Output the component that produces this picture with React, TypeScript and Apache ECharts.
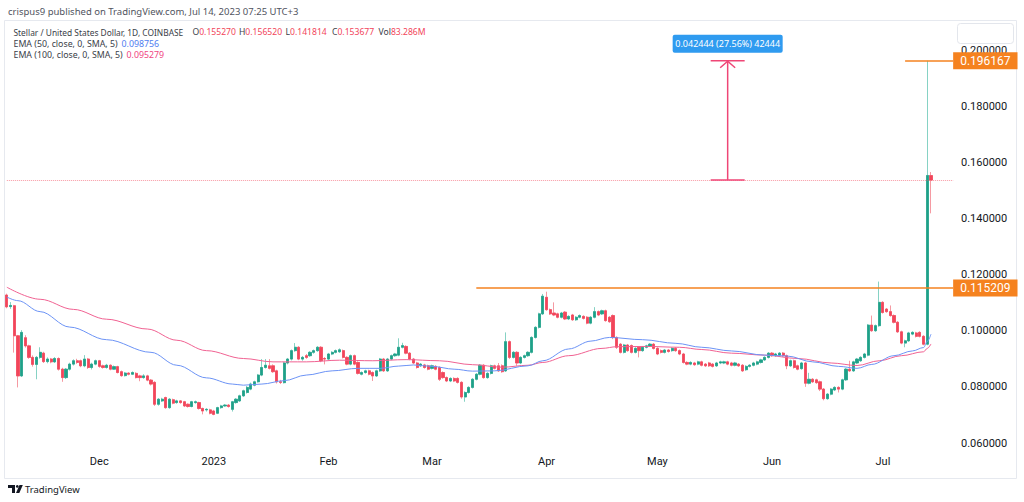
import React, { useEffect, useRef } from "react";
import * as echarts from "echarts";

// ---------- DATA ----------
const START_UTC = Date.UTC(2022, 10, 6); // first candle: 2022-11-06, daily candles
const PAD_DAYS = 6; // empty space right of the last candle

// [open, close, low, high]
const ohlc: number[][] = [
  [0.1127, 0.1085, 0.1080, 0.1132], [0.1086, 0.1090, 0.1078, 0.1102], [0.1089, 0.0982, 0.0922, 0.1092], [0.0982, 0.0839, 0.0798, 0.0985],
  [0.0839, 0.0994, 0.0835, 0.1002], [0.0975, 0.0946, 0.0940, 0.0984], [0.0946, 0.0905, 0.0900, 0.0950], [0.0905, 0.0880, 0.0872, 0.0912],
  [0.0880, 0.0905, 0.0827, 0.0910], [0.0905, 0.0923, 0.0900, 0.0941], [0.0920, 0.0890, 0.0885, 0.0925], [0.0890, 0.0899, 0.0884, 0.0905],
  [0.0899, 0.0889, 0.0884, 0.0903], [0.0889, 0.0901, 0.0885, 0.0906], [0.0901, 0.0863, 0.0858, 0.0905], [0.0863, 0.0833, 0.0818, 0.0868],
  [0.0833, 0.0863, 0.0828, 0.0867], [0.0863, 0.0881, 0.0858, 0.0886], [0.0881, 0.0893, 0.0876, 0.0898], [0.0893, 0.0887, 0.0882, 0.0900],
  [0.0893, 0.0875, 0.0870, 0.0897], [0.0875, 0.0899, 0.0870, 0.0913], [0.0899, 0.0869, 0.0864, 0.0903], [0.0869, 0.0881, 0.0862, 0.0886],
  [0.0881, 0.0893, 0.0877, 0.0897], [0.0893, 0.0873, 0.0868, 0.0896], [0.0875, 0.0869, 0.0865, 0.0879], [0.0869, 0.0877, 0.0865, 0.0882],
  [0.0877, 0.0863, 0.0859, 0.0880], [0.0863, 0.0872, 0.0860, 0.0876], [0.0872, 0.0851, 0.0848, 0.0875], [0.0854, 0.0840, 0.0836, 0.0858],
  [0.0840, 0.0849, 0.0837, 0.0853], [0.0849, 0.0845, 0.0841, 0.0852], [0.0845, 0.0851, 0.0842, 0.0855], [0.0848, 0.0833, 0.0830, 0.0852],
  [0.0839, 0.0833, 0.0820, 0.0843], [0.0833, 0.0839, 0.0829, 0.0845], [0.0839, 0.0824, 0.0820, 0.0843], [0.0824, 0.0810, 0.0805, 0.0828],
  [0.0816, 0.0738, 0.0732, 0.0820], [0.0738, 0.0756, 0.0733, 0.0760], [0.0750, 0.0756, 0.0746, 0.0761], [0.0762, 0.0726, 0.0722, 0.0765],
  [0.0726, 0.0756, 0.0722, 0.0760], [0.0754, 0.0742, 0.0738, 0.0758], [0.0744, 0.0750, 0.0740, 0.0754], [0.0750, 0.0744, 0.0740, 0.0753],
  [0.0747, 0.0732, 0.0728, 0.0750], [0.0738, 0.0730, 0.0726, 0.0741], [0.0730, 0.0747, 0.0727, 0.0750], [0.0744, 0.0747, 0.0740, 0.0751],
  [0.0744, 0.0723, 0.0719, 0.0747], [0.0723, 0.0714, 0.0702, 0.0726], [0.0718, 0.0720, 0.0712, 0.0724], [0.0718, 0.0706, 0.0702, 0.0722],
  [0.0714, 0.0702, 0.0699, 0.0718], [0.0706, 0.0726, 0.0703, 0.0729], [0.0726, 0.0732, 0.0722, 0.0736], [0.0732, 0.0735, 0.0729, 0.0739],
  [0.0735, 0.0730, 0.0726, 0.0739], [0.0720, 0.0747, 0.0712, 0.0750], [0.0744, 0.0756, 0.0740, 0.0760], [0.0750, 0.0768, 0.0746, 0.0772],
  [0.0768, 0.0786, 0.0764, 0.0790], [0.0780, 0.0798, 0.0776, 0.0803], [0.0792, 0.0810, 0.0788, 0.0815], [0.0806, 0.0818, 0.0802, 0.0822],
  [0.0818, 0.0842, 0.0815, 0.0846], [0.0842, 0.0869, 0.0838, 0.0899], [0.0869, 0.0877, 0.0865, 0.0899], [0.0875, 0.0866, 0.0862, 0.0899],
  [0.0875, 0.0854, 0.0850, 0.0880], [0.0857, 0.0818, 0.0812, 0.0861], [0.0818, 0.0816, 0.0810, 0.0825], [0.0815, 0.0885, 0.0812, 0.0889],
  [0.0885, 0.0899, 0.0880, 0.0903], [0.0899, 0.0929, 0.0894, 0.0933], [0.0929, 0.0941, 0.0925, 0.0956], [0.0941, 0.0899, 0.0895, 0.0945],
  [0.0899, 0.0905, 0.0893, 0.0910], [0.0911, 0.0905, 0.0900, 0.0917], [0.0911, 0.0923, 0.0907, 0.0927], [0.0923, 0.0929, 0.0918, 0.0933],
  [0.0929, 0.0941, 0.0925, 0.0945], [0.0941, 0.0893, 0.0888, 0.0945], [0.0901, 0.0899, 0.0880, 0.0906], [0.0899, 0.0917, 0.0895, 0.0921],
  [0.0917, 0.0923, 0.0913, 0.0927], [0.0923, 0.0929, 0.0919, 0.0933], [0.0925, 0.0932, 0.0921, 0.0937], [0.0929, 0.0905, 0.0901, 0.0933],
  [0.0905, 0.0881, 0.0877, 0.0909], [0.0881, 0.0911, 0.0877, 0.0915], [0.0911, 0.0881, 0.0877, 0.0915], [0.0887, 0.0848, 0.0844, 0.0891],
  [0.0845, 0.0851, 0.0841, 0.0855], [0.0851, 0.0857, 0.0847, 0.0861], [0.0857, 0.0845, 0.0841, 0.0861], [0.0851, 0.0839, 0.0821, 0.0855],
  [0.0839, 0.0857, 0.0835, 0.0861], [0.0857, 0.0899, 0.0853, 0.0903], [0.0899, 0.0857, 0.0853, 0.0903], [0.0857, 0.0899, 0.0853, 0.0903],
  [0.0899, 0.0911, 0.0895, 0.0915], [0.0911, 0.0917, 0.0907, 0.0921], [0.0913, 0.0941, 0.0909, 0.0973], [0.0941, 0.0947, 0.0937, 0.0957],
  [0.0944, 0.0920, 0.0916, 0.0948], [0.0920, 0.0899, 0.0895, 0.0924], [0.0899, 0.0885, 0.0881, 0.0903], [0.0885, 0.0869, 0.0865, 0.0889],
  [0.0875, 0.0881, 0.0871, 0.0885], [0.0878, 0.0869, 0.0865, 0.0882], [0.0875, 0.0863, 0.0859, 0.0879], [0.0866, 0.0875, 0.0862, 0.0879],
  [0.0873, 0.0863, 0.0859, 0.0877], [0.0869, 0.0827, 0.0821, 0.0873], [0.0851, 0.0833, 0.0829, 0.0855], [0.0833, 0.0821, 0.0817, 0.0837],
  [0.0821, 0.0830, 0.0817, 0.0834], [0.0830, 0.0821, 0.0817, 0.0834], [0.0830, 0.0816, 0.0812, 0.0834], [0.0816, 0.0764, 0.0758, 0.0820],
  [0.0764, 0.0780, 0.0747, 0.0784], [0.0780, 0.0798, 0.0776, 0.0802], [0.0798, 0.0827, 0.0794, 0.0831], [0.0827, 0.0845, 0.0823, 0.0849],
  [0.0845, 0.0877, 0.0841, 0.0881], [0.0877, 0.0833, 0.0829, 0.0881], [0.0833, 0.0848, 0.0829, 0.0852], [0.0848, 0.0875, 0.0844, 0.0879],
  [0.0875, 0.0866, 0.0862, 0.0879], [0.0875, 0.0857, 0.0853, 0.0885], [0.0875, 0.0854, 0.0850, 0.0880], [0.0857, 0.0961, 0.0853, 0.0994],
  [0.0961, 0.0905, 0.0899, 0.0965], [0.0905, 0.0923, 0.0901, 0.0927], [0.0923, 0.0885, 0.0875, 0.0927], [0.0885, 0.0905, 0.0881, 0.0909],
  [0.0905, 0.0911, 0.0901, 0.0915], [0.0911, 0.0923, 0.0907, 0.0927], [0.0923, 0.0976, 0.0919, 0.0980], [0.0976, 0.1012, 0.0972, 0.1016],
  [0.1012, 0.1060, 0.1008, 0.1064], [0.1060, 0.1123, 0.1056, 0.1131], [0.1119, 0.1075, 0.1071, 0.1139], [0.1075, 0.1060, 0.1056, 0.1079],
  [0.1063, 0.1056, 0.1052, 0.1101], [0.1060, 0.1048, 0.1044, 0.1064], [0.1048, 0.1063, 0.1044, 0.1067], [0.1066, 0.1042, 0.1038, 0.1070],
  [0.1042, 0.1051, 0.1038, 0.1055], [0.1056, 0.1039, 0.1035, 0.1060], [0.1039, 0.1048, 0.1035, 0.1052], [0.1048, 0.1054, 0.1044, 0.1058],
  [0.1051, 0.1044, 0.1040, 0.1055], [0.1048, 0.1027, 0.1023, 0.1052], [0.1027, 0.1048, 0.1023, 0.1052], [0.1048, 0.1068, 0.1044, 0.1084],
  [0.1068, 0.1056, 0.1052, 0.1072], [0.1060, 0.1071, 0.1056, 0.1075], [0.1071, 0.1036, 0.1032, 0.1075], [0.1048, 0.1032, 0.1028, 0.1052],
  [0.1054, 0.0976, 0.0970, 0.1058], [0.0976, 0.0941, 0.0935, 0.0980], [0.0952, 0.0923, 0.0919, 0.0956], [0.0923, 0.0949, 0.0919, 0.0953],
  [0.0949, 0.0929, 0.0925, 0.0953], [0.0947, 0.0923, 0.0919, 0.0951], [0.0923, 0.0937, 0.0919, 0.0941], [0.0941, 0.0929, 0.0905, 0.0945],
  [0.0929, 0.0941, 0.0925, 0.0945], [0.0941, 0.0946, 0.0937, 0.0950], [0.0946, 0.0952, 0.0942, 0.0956], [0.0952, 0.0937, 0.0933, 0.0956],
  [0.0937, 0.0917, 0.0913, 0.0941], [0.0929, 0.0923, 0.0919, 0.0933], [0.0923, 0.0931, 0.0919, 0.0935], [0.0931, 0.0926, 0.0922, 0.0935],
  [0.0929, 0.0937, 0.0925, 0.0941], [0.0937, 0.0929, 0.0925, 0.0941], [0.0929, 0.0917, 0.0913, 0.0933], [0.0917, 0.0887, 0.0883, 0.0921],
  [0.0887, 0.0881, 0.0877, 0.0891], [0.0881, 0.0887, 0.0877, 0.0891], [0.0885, 0.0879, 0.0875, 0.0889], [0.0881, 0.0889, 0.0877, 0.0893],
  [0.0889, 0.0877, 0.0873, 0.0893], [0.0881, 0.0875, 0.0871, 0.0885], [0.0885, 0.0875, 0.0871, 0.0889], [0.0881, 0.0873, 0.0869, 0.0885],
  [0.0875, 0.0885, 0.0871, 0.0889], [0.0885, 0.0889, 0.0881, 0.0893], [0.0885, 0.0889, 0.0881, 0.0893], [0.0889, 0.0881, 0.0877, 0.0893],
  [0.0885, 0.0877, 0.0873, 0.0889], [0.0877, 0.0885, 0.0873, 0.0889], [0.0881, 0.0875, 0.0871, 0.0885], [0.0877, 0.0857, 0.0853, 0.0881],
  [0.0861, 0.0873, 0.0857, 0.0877], [0.0873, 0.0877, 0.0869, 0.0881], [0.0877, 0.0885, 0.0873, 0.0889], [0.0881, 0.0889, 0.0877, 0.0893],
  [0.0887, 0.0896, 0.0883, 0.0900], [0.0896, 0.0905, 0.0892, 0.0909], [0.0905, 0.0920, 0.0901, 0.0924], [0.0920, 0.0911, 0.0907, 0.0924],
  [0.0911, 0.0917, 0.0907, 0.0921], [0.0913, 0.0920, 0.0909, 0.0924], [0.0920, 0.0911, 0.0907, 0.0924], [0.0911, 0.0875, 0.0863, 0.0915],
  [0.0875, 0.0893, 0.0871, 0.0897], [0.0893, 0.0869, 0.0865, 0.0897], [0.0875, 0.0863, 0.0859, 0.0879], [0.0865, 0.0885, 0.0861, 0.0889],
  [0.0885, 0.0813, 0.0800, 0.0889], [0.0813, 0.0827, 0.0809, 0.0850], [0.0827, 0.0818, 0.0814, 0.0831], [0.0825, 0.0815, 0.0811, 0.0829],
  [0.0818, 0.0792, 0.0785, 0.0822], [0.0792, 0.0758, 0.0752, 0.0796], [0.0758, 0.0774, 0.0754, 0.0778], [0.0774, 0.0792, 0.0770, 0.0796],
  [0.0789, 0.0798, 0.0785, 0.0802], [0.0798, 0.0792, 0.0780, 0.0802], [0.0792, 0.0825, 0.0788, 0.0829], [0.0825, 0.0863, 0.0821, 0.0867],
  [0.0863, 0.0857, 0.0853, 0.0893], [0.0857, 0.0889, 0.0853, 0.0893], [0.0885, 0.0899, 0.0881, 0.0903], [0.0893, 0.0905, 0.0889, 0.0909],
  [0.0905, 0.0917, 0.0901, 0.0921], [0.0913, 0.1020, 0.0909, 0.1024], [0.1020, 0.1000, 0.0996, 0.1054], [0.1000, 0.1018, 0.0996, 0.1022],
  [0.1018, 0.1101, 0.1014, 0.1175], [0.1101, 0.1065, 0.1061, 0.1105], [0.1077, 0.1068, 0.1064, 0.1081], [0.1068, 0.1054, 0.1050, 0.1090],
  [0.1054, 0.1030, 0.1026, 0.1058], [0.1030, 0.0996, 0.0992, 0.1034], [0.0996, 0.0956, 0.0952, 0.1000], [0.0956, 0.0964, 0.0941, 0.0968],
  [0.0964, 0.0992, 0.0960, 0.0996], [0.0988, 0.0994, 0.0984, 0.0998], [0.0992, 0.0980, 0.0976, 0.0996], [0.0994, 0.0980, 0.0976, 0.0998],
  [0.0980, 0.0952, 0.0948, 0.0984], [0.0952, 0.1553, 0.0948, 0.196167], [0.155270, 0.153677, 0.141814, 0.156520],
];

// EMA lines at these candle indices
const ema50Idx = [0, 3, 9, 17, 27, 39, 46, 54, 61, 64, 69, 75, 81, 88, 95, 101, 106, 110, 115, 121, 126, 132, 141, 145, 152, 158, 163, 172, 181, 188, 196, 205, 211, 218, 225, 230, 234, 240, 245, 248, 249, 250];
const ema50Val = [0.1120, 0.1107, 0.1068, 0.1013, 0.0968, 0.0923, 0.0877, 0.0832, 0.0810, 0.0806, 0.0810, 0.0822, 0.0842, 0.0857, 0.0866, 0.0866, 0.0874, 0.0878, 0.0873, 0.0863, 0.0856, 0.0857, 0.0875, 0.0893, 0.0935, 0.0963, 0.0976, 0.0968, 0.0955, 0.0941, 0.0928, 0.0913, 0.0910, 0.0889, 0.0873, 0.0866, 0.0880, 0.0911, 0.0928, 0.0940, 0.0962, 0.098756];
const ema100Idx = [0, 9, 18, 27, 38, 46, 54, 64, 72, 81, 90, 99, 108, 117, 126, 134, 141, 145, 152, 161, 165, 173, 182, 188, 196, 205, 214, 223, 230, 236, 242, 248, 249, 250];
const ema100Val = [0.1155, 0.1112, 0.1076, 0.1041, 0.1006, 0.0966, 0.0929, 0.0901, 0.0889, 0.0889, 0.0895, 0.0893, 0.0897, 0.0893, 0.0879, 0.0870, 0.0877, 0.0887, 0.0911, 0.0937, 0.0943, 0.0944, 0.0941, 0.0933, 0.0920, 0.0913, 0.0901, 0.0885, 0.0876, 0.0893, 0.0911, 0.0925, 0.0937, 0.095279];

const monthTickDates = ["2022-12-01", "2023-01-01", "2023-02-01", "2023-03-01", "2023-04-01", "2023-05-01", "2023-06-01", "2023-07-01"];
const monthTickLabels = ["Dec", "2023", "Feb", "Mar", "Apr", "May", "Jun", "Jul"];

const lastPrice = 0.153677;
const level1 = 0.115209;
const level1StartIdx = 127;
const level2 = 0.196167;
const level2StartIdx = 243;
const measureIdx = 195;
const measureFrom = 0.153723;
const measureTo = 0.196167;
const measureText = "0.042444 (27.56%) 42444";

const headerPublished = "crispus9 published on TradingView.com, Jul 14, 2023 07:25 UTC+3";
const headerSymbol = "Stellar / United States Dollar, 1D, COINBASE";
const headerOHLC = [["O", "0.155270"], ["H", "0.156520"], ["L", "0.141814"], ["C", "0.153677"], ["Vol", "83.286M"]];
const headerEma50 = ["EMA (50, close, 0, SMA, 5)", "0.098756"];
const headerEma100 = ["EMA (100, close, 0, SMA, 5)", "0.095279"];

// ---------- STYLE ----------
const UP = "#1fa088";
const DOWN = "#f2455a";
const UP_WICK = "#86d2c4";
const DOWN_WICK = "#f59aa2";
const ORANGE = "#f5821f";
const BLUE_EMA = "#6c93f5";
const PINK_EMA = "#f06292";
const MEASURE = "#ef4676";
const TXT = "#3a3e48";

const categories = Array.from({ length: ohlc.length + PAD_DAYS }, (_, i) =>
  new Date(START_UTC + i * 86400000).toISOString().slice(0, 10)
);

export default function App() {
  const ref = useRef<HTMLDivElement>(null);

  useEffect(() => {
    const el = ref.current;
    if (!el) return;
    const chart = echarts.init(el, undefined, { renderer: "svg" });
    const lastCat = categories[categories.length - 1];

    const option: any = {
      animation: false,
      backgroundColor: "#ffffff",
      textStyle: { fontFamily: "Roboto" },
      grid: { left: 5, right: 69, top: 50, bottom: 59, containLabel: false },
      xAxis: {
        type: "category",
        data: categories,
        boundaryGap: true,
        axisLine: { show: false },
        axisTick: { show: false },
        splitLine: { show: false },
        axisLabel: {
          interval: (_i: number, v: string) => monthTickDates.indexOf(v) >= 0,
          formatter: (v: string) => monthTickLabels[monthTickDates.indexOf(v)] ?? "",
          color: "#131722",
          fontSize: 11,
          margin: 13,
        },
      },
      yAxis: {
        type: "value",
        position: "right",
        min: 0.06,
        max: 0.2,
        interval: 0.02,
        scale: true,
        axisLine: { show: false },
        axisTick: { show: false },
        splitLine: { show: false },
        axisLabel: {
          formatter: (v: number) => v.toFixed(6),
          color: "#131722",
          fontSize: 11,
          margin: 6,
        },
      },
      series: [
        {
          name: "wicks",
          type: "candlestick",
          data: ohlc,
          barWidth: "72%",
          itemStyle: { color: UP_WICK, color0: DOWN_WICK, borderColor: UP_WICK, borderColor0: DOWN_WICK, borderWidth: 1 },
          z: 2,
        },
        {
          name: "bodies",
          type: "candlestick",
          data: ohlc.map(([o, c]) => [o, c, Math.min(o, c), Math.max(o, c)]),
          barWidth: "72%",
          itemStyle: { color: UP, color0: DOWN, borderColor: UP, borderColor0: DOWN, borderWidth: 0.6 },
          z: 3,
          markLine: {
            silent: true,
            symbol: ["none", "none"],
            animation: false,
            data: [
              [
                {
                  coord: [categories[0], lastPrice],
                  lineStyle: { color: DOWN, type: "dotted", width: 1, opacity: 0.55 },
                  label: { show: false },
                },
                { coord: [lastCat, lastPrice] },
              ],
              [
                {
                  coord: [categories[level1StartIdx], level1],
                  lineStyle: { color: ORANGE, type: "solid", width: 1.5 },
                  label: {
                    show: true, position: "end", distance: 0, formatter: level1.toFixed(6),
                    backgroundColor: ORANGE, color: "#fff", padding: [3, 7, 2, 7], fontSize: 12, fontFamily: "Roboto",
                  },
                },
                { coord: [lastCat, level1] },
              ],
              [
                {
                  coord: [categories[level2StartIdx], level2],
                  lineStyle: { color: ORANGE, type: "solid", width: 1.5 },
                  label: {
                    show: true, position: "end", distance: 0, formatter: level2.toFixed(6),
                    backgroundColor: ORANGE, color: "#fff", padding: [3, 7, 2, 7], fontSize: 12, fontFamily: "Roboto",
                  },
                },
                { coord: [lastCat, level2] },
              ],
            ],
          },
        },
        {
          name: "EMA 100",
          type: "line",
          data: ema100Idx.map((i, k) => [i, ema100Val[k]]),
          symbol: "none",
          smooth: 0.35,
          smoothMonotone: "x",
          lineStyle: { color: PINK_EMA, width: 1 },
          z: 4,
        },
        {
          name: "EMA 50",
          type: "line",
          data: ema50Idx.map((i, k) => [i, ema50Val[k]]),
          symbol: "none",
          smooth: 0.35,
          smoothMonotone: "x",
          lineStyle: { color: BLUE_EMA, width: 1 },
          z: 4,
        },
      ],
    };
    chart.setOption(option);

    const px = (i: number, v: number) => chart.convertToPixel({ xAxisIndex: 0, yAxisIndex: 0 }, [i, v]) as number[];
    const top = px(measureIdx, measureTo);
    const bot = px(measureIdx, measureFrom);
    const mx = top[0];
    const yT = top[1];
    const yB = bot[1];

    const hFont = "Noto Sans";
    const ohlcTexts: any[] = [];
    let ox = 192.5;
    headerOHLC.forEach(([k, v]) => {
      ohlcTexts.push({
        type: "text", x: ox, y: 32, z: 10,
        style: {
          text: `{k|${k}}{v|${v}}`, verticalAlign: "middle", font: `8.6px ${hFont}`,
          rich: { k: { fill: TXT, fontSize: 8.6, fontFamily: hFont }, v: { fill: DOWN, fontSize: 8.6, fontFamily: hFont } },
        },
      });
      ox += 46.5;
    });

    const graphics: any[] = [
      // panel border
      { type: "rect", shape: { x: 4.5, y: 20.5, width: 1012, height: 458 }, style: { fill: "none", stroke: "#e6e9ef", lineWidth: 1 }, z: 0, silent: true },
      // top-right blank button
      { type: "rect", shape: { x: 957.5, y: 23.5, width: 56, height: 20, r: 3 }, style: { fill: "#fff", stroke: "#e3e6ec", lineWidth: 1 }, z: 10 },
      { type: "text", x: 8, y: 11.5, style: { text: headerPublished, fill: "#50535e", font: `9.5px ${hFont}`, verticalAlign: "middle" }, z: 10 },
      { type: "text", x: 13.5, y: 32, style: { text: headerSymbol, fill: TXT, font: `8.4px ${hFont}`, verticalAlign: "middle" }, z: 10 },
      ...ohlcTexts,
      { type: "text", x: 13.5, y: 43.5, style: { text: headerEma50[0], fill: TXT, font: `8.8px ${hFont}`, verticalAlign: "middle" }, z: 10 },
      { type: "text", x: 121.5, y: 43.5, style: { text: headerEma50[1], fill: "#4f7df0", font: `8.8px ${hFont}`, verticalAlign: "middle" }, z: 10 },
      { type: "text", x: 13.5, y: 55, style: { text: headerEma100[0], fill: TXT, font: `8.8px ${hFont}`, verticalAlign: "middle" }, z: 10 },
      { type: "text", x: 126.5, y: 55, style: { text: headerEma100[1], fill: "#f0447f", font: `8.8px ${hFont}`, verticalAlign: "middle" }, z: 10 },
      // measure tool
      { type: "line", shape: { x1: mx, y1: yT, x2: mx, y2: yB }, style: { stroke: MEASURE, lineWidth: 1.5 }, z: 10 },
      { type: "line", shape: { x1: mx - 17, y1: yT, x2: mx + 17, y2: yT }, style: { stroke: MEASURE, lineWidth: 1.5 }, z: 10 },
      { type: "line", shape: { x1: mx - 17, y1: yB, x2: mx + 17, y2: yB }, style: { stroke: MEASURE, lineWidth: 1.5 }, z: 10 },
      { type: "polyline", shape: { points: [[mx - 7.5, yT + 7], [mx, yT + 0.5], [mx + 7.5, yT + 7]] }, style: { stroke: MEASURE, lineWidth: 1.5, fill: "none" }, z: 10 },
      { type: "rect", shape: { x: mx - 55, y: yT - 26, width: 110, height: 18, r: 2 }, style: { fill: "#2f9bf0" }, z: 10 },
      { type: "text", x: mx, y: yT - 17, style: { text: measureText, fill: "#fff", font: `9px ${hFont}`, align: "center", verticalAlign: "middle" }, z: 11 },
      // TradingView logo
      { type: "polygon", shape: { points: [[8, 485], [15, 485], [15, 493], [12, 493], [12, 488], [8, 488]] }, style: { fill: "#131722" }, z: 10 },
      { type: "circle", shape: { cx: 17.3, cy: 486.4, r: 1.4 }, style: { fill: "#131722" }, z: 10 },
      { type: "polygon", shape: { points: [[19.5, 485], [22.8, 485], [19.3, 493], [16, 493]] }, style: { fill: "#131722" }, z: 10 },
      { type: "text", x: 25, y: 489.5, style: { text: "TradingView", fill: "#131722", font: `9.5px ${hFont}`, verticalAlign: "middle" }, z: 10 },
    ];
    chart.setOption({ graphic: graphics });

    return () => chart.dispose();
  }, []);

  return (
    <div
      ref={ref}
      style={{ position: "fixed", left: 0, top: 0, width: 1024, height: 502, background: "#fff" }}
    />
  );
}
